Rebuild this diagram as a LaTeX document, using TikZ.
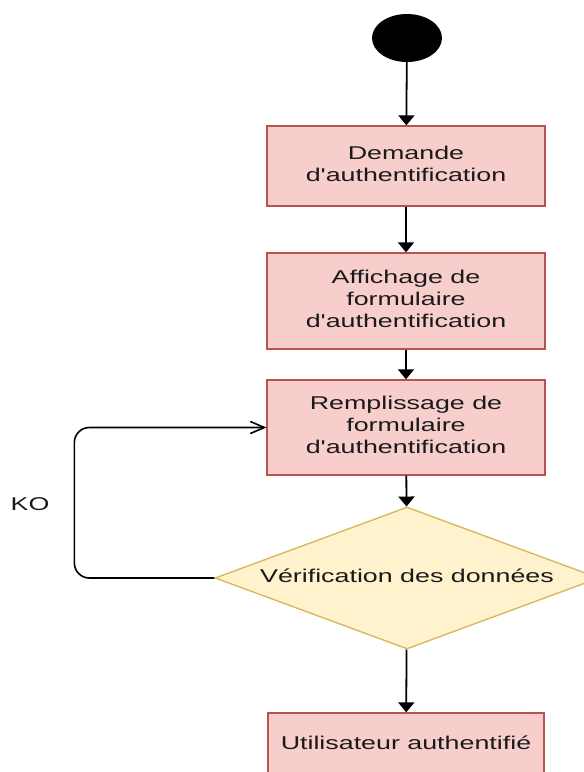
\documentclass[tikz,border=0pt]{standalone}
\usepackage{fontspec}
\setmainfont{Liberation Sans}[Ligatures=TeXOff]
\usetikzlibrary{shapes.geometric,arrows.meta}
\definecolor{boxfill}{HTML}{F8CECC}
\definecolor{boxline}{HTML}{B85450}
\definecolor{decfill}{HTML}{FFF2CC}
\definecolor{decline}{HTML}{D6B656}
\definecolor{ink}{HTML}{1A1A1A}
% wide sans labels, one or more centred lines
\newcommand{\wtext}[1]{\scalebox{1.45}[1]{\fontsize{18.5}{22}\selectfont\begin{tabular}{@{}c@{}}#1\end{tabular}}}
\begin{document}
\begin{tikzpicture}[x=1pt,y=-1pt,
  stepbox/.style={rectangle, draw=boxline, fill=boxfill, line width=1.3pt,
    minimum width=278pt, inner sep=0pt, text=ink},
  decision/.style={diamond, draw=decline, fill=decfill, line width=1.3pt,
    aspect=2.6, minimum width=384pt, minimum height=142pt, inner sep=0pt, text=ink},
  flow/.style={line width=1.8pt, -{Triangle[width=16pt,length=10pt]}},
  backflow/.style={line width=1.6pt, rounded corners=15pt,
    -{Straight Barb[width=12pt,length=14pt,line width=1.6pt]}}]
  \clip (0,0) rectangle (584,772);

  \node[ellipse, fill=black, minimum width=70pt, minimum height=48pt, inner sep=0pt] (start) at (407,38) {};

  \node[stepbox, minimum height=80pt] (b1) at (406,166) {\wtext{Demande\\d'authentification}};
  \node[stepbox, minimum height=96pt] (b2) at (406,301) {\wtext{Affichage de\\formulaire\\d'authentification}};
  \node[stepbox, minimum height=95pt] (b3) at (406,427.5) {\wtext{Remplissage de\\formulaire\\d'authentification}};
  \node[decision] (dec) at (407,578) {\wtext{Vérification des données}};
  \node[stepbox, minimum width=276pt, minimum height=64pt] (b4) at (406,745) {\wtext{Utilisateur authentifié}};

  \node[text=ink] (ko) at (30,506) {\wtext{KO}};

  \draw[flow] (start) -- (b1);
  \draw[flow] (b1) -- (b2);
  \draw[flow] (b2) -- (b3);
  \draw[flow] (b3) -- (dec);
  \draw[flow] (dec) -- (b4);
  \draw[backflow] (dec.west) -| ([xshift=-192pt]b3.west) -- (b3.west);
\end{tikzpicture}
\end{document}
